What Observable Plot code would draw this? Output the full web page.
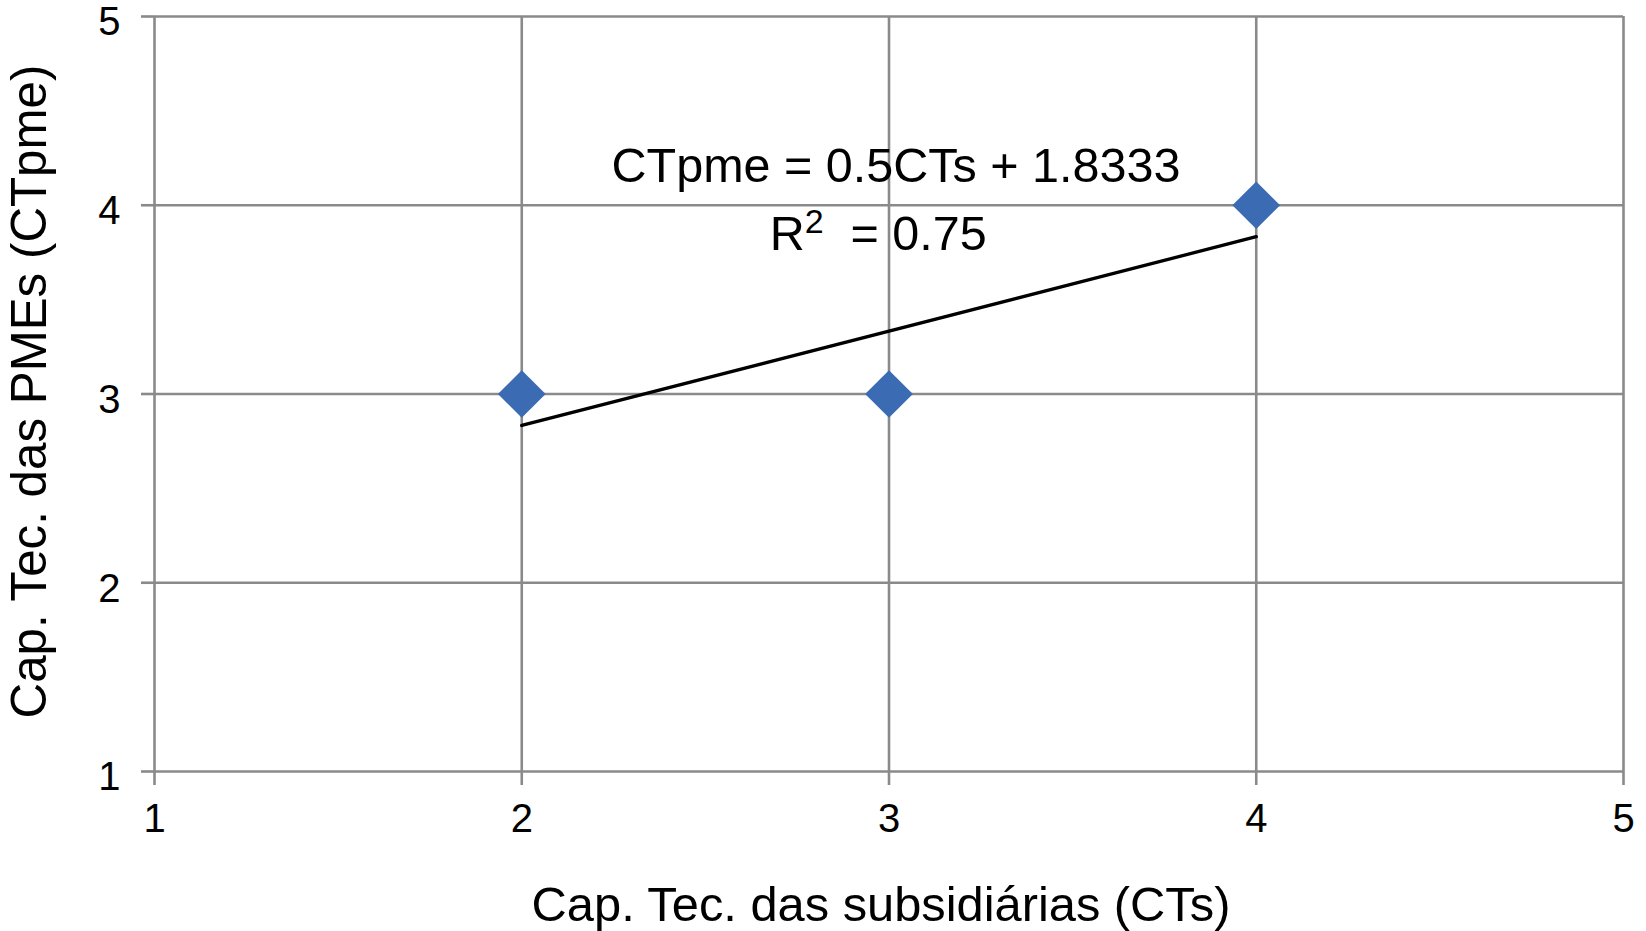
<!DOCTYPE html>
<html>
<head>
<meta charset="utf-8">
<script src="https://cdn.jsdelivr.net/npm/d3@7"></script>
<script src="https://cdn.jsdelivr.net/npm/@observablehq/plot@0.6"></script>
<style>
  html, body { margin: 0; padding: 0; background: #fff; }
  #chart svg { display: block; }
</style>
</head>
<body>
<div id="chart"></div>
<script>
// ---- data ----
const ctsValues = [2, 3, 4];          // Cap. Tec. das subsidiárias (CTs)
const ctpmeValues = [3, 3, 4];        // Cap. Tec. das PMEs (CTpme)
const trendX = [2, 4];
const trendY = [2.8333, 3.8333];
const xTicks = [1, 2, 3, 4, 5];
const yTicks = [1, 2, 3, 4, 5];
const xTitle = "Cap. Tec. das subsidiárias (CTs)";
const yTitle = "Cap. Tec. das PMEs (CTpme)";
const eqText = "CTpme = 0.5CTs + 1.8333";
const r2Text = "R2  = 0.75";

const points = ctsValues.map((x, i) => ({x, y: ctpmeValues[i]}));
const trend = trendX.map((x, i) => ({x, y: trendY[i]}));

const gridColor = "#8a8a8a";
const font = "'Liberation Sans', Arial, Helvetica, sans-serif";
const fmt = d => String(d);

const plot = Plot.plot({
  width: 1646,
  height: 931,
  marginLeft: 154,
  marginRight: 23,
  marginTop: 16,
  marginBottom: 160,
  style: {fontFamily: font, background: "#fff", color: "#000", overflow: "visible"},
  x: {domain: [1, 5]},
  y: {domain: [1, 5]},
  marks: [
    Plot.gridX(xTicks, {stroke: gridColor, strokeOpacity: 1, strokeWidth: 2.6}),
    Plot.gridY(yTicks, {stroke: gridColor, strokeOpacity: 1, strokeWidth: 2.6}),
    Plot.axisX(xTicks, {tickSize: 14, tickPadding: 18, fontSize: 40, tickFormat: fmt, stroke: gridColor, strokeWidth: 2.6, fill: "#000", label: null}),
    Plot.axisY(yTicks, {tickSize: 13, tickFormat: () => "", stroke: gridColor, strokeWidth: 2.6, label: null}),
    Plot.axisY(yTicks, {tickSize: 0, tickPadding: 34, dy: 6, fontSize: 40, tickFormat: fmt, fill: "#000", label: null}),
    Plot.line(trend, {x: "x", y: "y", stroke: "#000", strokeWidth: 3.3}),
    Plot.dot(points, {x: "x", y: "y", symbol: "diamond2", r: 21.5, fill: "#3b6bb3", stroke: "none"}),
    Plot.text([eqText], {x: () => 2.2446, y: () => 4.122, text: d => d, textAnchor: "start", lineAnchor: "bottom", fontSize: 48.5, fill: "#000"}),
    Plot.text([r2Text], {x: () => 2.675, y: () => 3.762, text: d => d, textAnchor: "start", lineAnchor: "bottom", fontSize: 48.5, fill: "#000"}),
    Plot.text([xTitle], {frameAnchor: "bottom", text: d => d, textAnchor: "middle", lineAnchor: "bottom", dy: 149, dx: -8, fontSize: 48.8, fill: "#000"}),
    Plot.text([yTitle], {frameAnchor: "left", text: d => d, rotate: -90, textAnchor: "middle", lineAnchor: "bottom", dx: -109, dy: -2.5, fontSize: 49.3, fill: "#000"})
  ]
});

// Superscript for R²
d3.select(plot).selectAll("text").each(function() {
  if (this.textContent === r2Text) {
    const t = d3.select(this);
    t.text(null).style("white-space", "pre").attr("xml:space", "preserve");
    t.append("tspan").text("R");
    t.append("tspan").attr("dy", -17).attr("font-size", 34).text("2");
    t.append("tspan").attr("dy", 17).text("  = 0.75");
  }
});

document.getElementById("chart").appendChild(plot);
</script>
</body>
</html>
